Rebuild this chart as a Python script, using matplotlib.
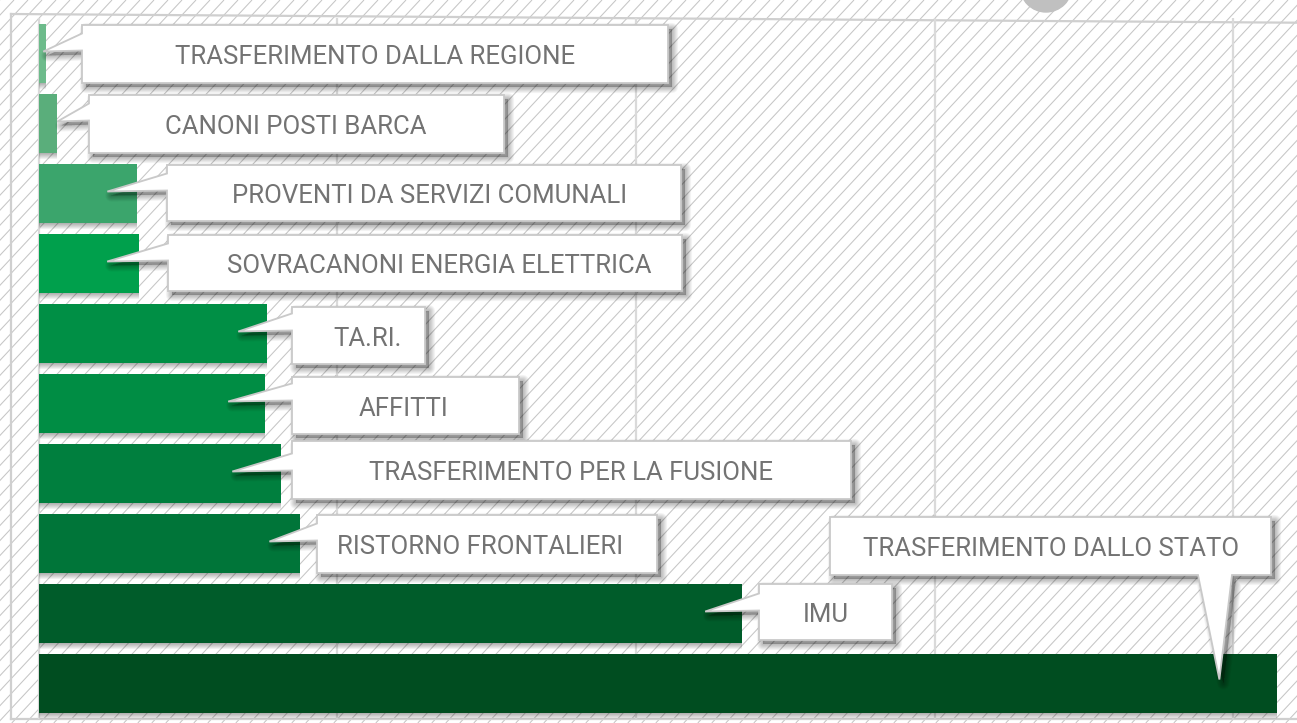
import numpy as np
import matplotlib.pyplot as plt
from matplotlib.patches import Polygon, Circle
from matplotlib.collections import LineCollection

# data (grid step = 100)
categories = ["TRASFERIMENTO DALLA REGIONE", "CANONI POSTI BARCA",
              "PROVENTI DA SERVIZI COMUNALI", "SOVRACANONI ENERGIA ELETTRICA",
              "TA.RI.", "AFFITTI", "TRASFERIMENTO PER LA FUSIONE",
              "RISTORNO FRONTALIERI", "IMU", "TRASFERIMENTO DALLO STATO"]
values = [2.5, 6.2, 33.0, 33.6, 76.5, 75.8, 81.2, 87.6, 235.5, 414.7]
grid_ticks = [0, 100, 200, 300, 400]

# style
bar_colors = ['#6dbb8b', '#5aae7b', '#3ba56c', '#00a04c', '#008f45',
              '#008d44', '#007f3e', '#007539', '#005c2a', '#004d20']
text_color = '#737373'
line_grey = '#cfcfcf'

# callout layout in pixels: box (x0, x1, y0, y1), text centre x, tip inset from bar end
boxes = [(82, 668, 25, 83), (89, 504, 95, 153), (167, 681, 165, 221),
         (168, 682, 235, 291), (292, 425, 307, 364), (292, 519, 377, 434),
         (292, 851, 441, 499), (317, 657, 515, 573), (759, 892, 584, 640),
         (830, 1271, 517, 575)]
text_x = [375, 296, 430, 439, 368, 404, 571, 480, 826, 1051]
tip_inset = [3, 0, 30, 32, 29, 37, 49, 31, 37, 58]

W, H = 1297, 723
X0, PPU = 38.8, 2.9867      # pixel of value 0, pixels per unit
Y0, STEP = 53.5, 70.0       # pixel centre of first bar, bar pitch

fig = plt.figure(figsize=(W / 100, H / 100), dpi=100)

# background: hatching, frame, decoration
bg = fig.add_axes([0, 0, 1, 1])
bg.set_xlim(0, W); bg.set_ylim(H, 0); bg.axis('off')
bg.add_patch(plt.Rectangle((0, 0), W, H, color='white', zorder=0))
ang = np.deg2rad(47)
run = H / np.tan(ang)
segs = [[(c, H), (c + run, 0)] for c in np.arange(-run, W + 20, 14)]
bg.add_collection(LineCollection(segs, colors='#c6c6c6', linewidths=0.75, zorder=1))
bg.plot([11, W], [14, 22.7], color=line_grey, lw=1.6, zorder=2)
bg.plot([11, 11], [14, 719], color=line_grey, lw=1.6, zorder=2)
bg.plot([11, W], [719, 719], color=line_grey, lw=1.6, zorder=2)
bg.add_patch(Circle((1046, -14), 26, color='#c0c0c0', zorder=3))

# main axes with the bars
ax = fig.add_axes([0, 0, 1, 1], zorder=1)
ax.patch.set_alpha(0)
ax.set_xlim(-X0 / PPU, (W - X0) / PPU)
ax.set_ylim((H - Y0) / STEP, -Y0 / STEP)
ax.axis('off')
ypos = np.arange(len(categories))
bh = 59 / STEP
ax.vlines(grid_ticks, (719 - Y0) / STEP, (18 - Y0) / STEP, color='#dadada', lw=1.6, zorder=1)
# soft shadow under each bar
for k in range(1, 7):
    ax.barh(ypos + k / 2 / STEP, values, bh + k / STEP, left=0,
            color=(0, 0, 0, 0.055), linewidth=0, zorder=2)
ax.barh(ypos, values, bh, left=0, color=bar_colors, zorder=3)


def to_px(v, i):
    d = ax.transData.transform((v, i))
    return d[0], H - d[1]


# overlay for callouts
ov = fig.add_axes([0, 0, 1, 1], zorder=2)
ov.patch.set_alpha(0)
ov.set_xlim(0, W); ov.set_ylim(H, 0); ov.axis('off')


def shadow(pts, dx=4, dy=4, layers=8, alpha=0.035):
    p = np.array(pts) + [dx, dy]
    for k in range(layers):
        ov.add_patch(Polygon(p, closed=True, facecolor=(0, 0, 0, alpha),
                             edgecolor=(0, 0, 0, alpha), linewidth=1.1 * (k + 1),
                             joinstyle='round', zorder=1))


for i, lab in enumerate(categories):
    x0, x1, y0, y1 = boxes[i]
    bx, cy = to_px(values[i], i)
    tx = bx - tip_inset[i]
    if i < len(categories) - 1:
        pts = [(x0, y0), (x1, y0), (x1, y1), (x0, y1),
               (x0, cy - 3), (tx, cy - 2), (x0, cy - 20)]
    else:
        pts = [(x0, y0), (x1, y0), (x1, y1), (1232, y1),
               (tx, cy - 4), (1198, y1), (x0, y1)]
    shadow(pts)
    ov.add_patch(Polygon(pts, closed=True, facecolor='white', edgecolor='#c9c9c9',
                         linewidth=1.3, zorder=2))
    ov.text(text_x[i], (y0 + y1) / 2 + 3, lab, ha='center', va='center',
            fontsize=18.5, color=text_color, family='Roboto', zorder=3)

fig.savefig('out.png', dpi=100)
